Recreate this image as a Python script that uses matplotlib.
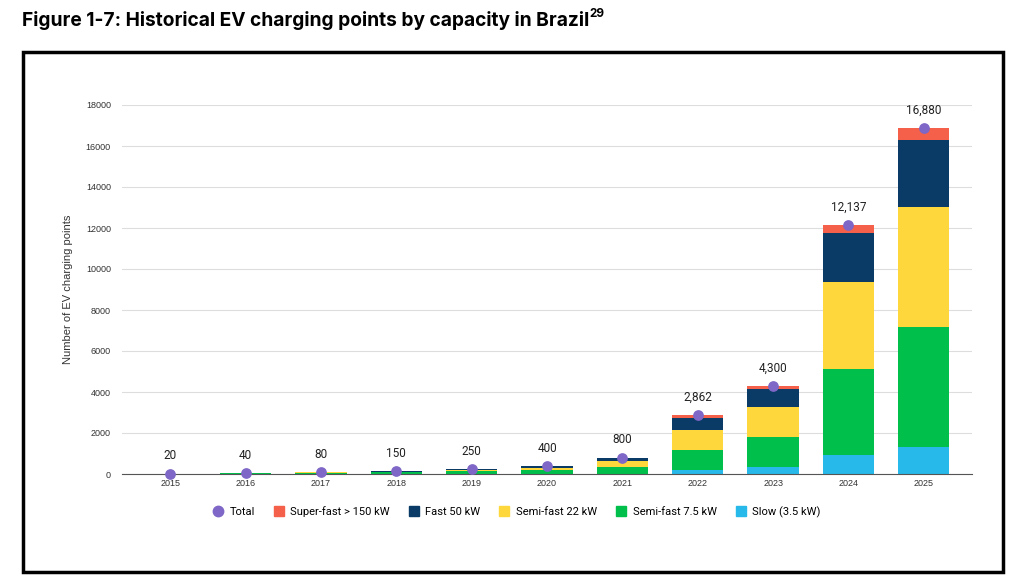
import matplotlib.pyplot as plt
from matplotlib.patches import Rectangle
from matplotlib.lines import Line2D
import numpy as np

# Data
years = ['2015', '2016', '2017', '2018', '2019', '2020', '2021', '2022', '2023', '2024', '2025']
slow = [20, 20, 10, 10, 5, 10, 20, 200, 340, 950, 1300]
semi_75 = [0, 20, 30, 80, 130, 200, 330, 970, 1460, 4170, 5870]
semi_22 = [0, 0, 40, 30, 70, 100, 260, 980, 1470, 4250, 5850]
fast_50 = [0, 0, 0, 30, 40, 80, 170, 580, 880, 2390, 3270]
super_fast = [0, 0, 0, 0, 5, 10, 20, 132, 150, 377, 590]
totals = [20, 40, 80, 150, 250, 400, 800, 2862, 4300, 12137, 16880]
total_labels = ['20', '40', '80', '150', '250', '400', '800', '2,862', '4,300', '12,137', '16,880']

series = [
    ('Slow (3.5 kW)', slow, '#27B9E9'),
    ('Semi-fast 7.5 kW', semi_75, '#00C04B'),
    ('Semi-fast 22 kW', semi_22, '#FDD73C'),
    ('Fast 50 kW', fast_50, '#0A3A66'),
    ('Super-fast > 150 kW', super_fast, '#F4604A'),
]
dot_color = '#7F67C7'

plt.rcParams['font.family'] = ['Roboto', 'DejaVu Sans']

fig = plt.figure(figsize=(10.24, 5.88), dpi=100)

# Title and outer frame
t = fig.text(22 / 1024, 1 - 20 / 588, 'Figure 1-7: Historical EV charging points by capacity in Brazil',
             fontsize=13.8, fontweight='bold', family='Inter', va='center', ha='left')
fig.canvas.draw()
bb = t.get_window_extent()
fig.text(bb.x1 / 1024, 1 - 14 / 588, '29', fontsize=8.5, fontweight='bold', family='Inter',
         va='center', ha='left')
fig.patches.append(Rectangle((23 / 1024, 1 - 572 / 588), (1003 - 23) / 1024, (572 - 52) / 588,
                             transform=fig.transFigure, fill=False, edgecolor='black', linewidth=2.5))

ax = fig.add_axes([122 / 1024, 1 - 474 / 588, (972 - 122) / 1024, (474 - 105) / 588])

x = np.arange(len(years))
bottom = np.zeros(len(years))
for name, vals, color in series:
    ax.bar(x, vals, width=0.68, bottom=bottom, color=color, zorder=2)
    bottom += np.array(vals)

ax.scatter(x, totals, s=45, color=dot_color, zorder=3, clip_on=False)
for xi, tot, lab in zip(x, totals, total_labels):
    ax.annotate(lab, (xi, tot), xytext=(0, 8), textcoords='offset points',
                ha='center', va='bottom', fontsize=8.5, color='#222222')

ax.set_xlim(-0.64, len(years) - 0.36)
ax.set_ylim(0, 18000)
ax.set_yticks(range(0, 18001, 2000))
ax.set_xticks(x)
ax.set_xticklabels(years)
ax.tick_params(axis='both', length=0, labelsize=6.5, colors='#333333')
ax.tick_params(axis='y', pad=8)
for lbl in ax.get_xticklabels() + ax.get_yticklabels():
    lbl.set_family('Liberation Sans')
ax.grid(axis='y', color='#DDDDDD', linewidth=0.8, zorder=0)
for s in ['top', 'right', 'left']:
    ax.spines[s].set_visible(False)
ax.spines['bottom'].set_color('#555555')
ax.set_ylabel('Number of EV charging points', fontsize=8, color='#333333', labelpad=9,
              family='Liberation Sans')

# Legend
handles = [Line2D([], [], marker='o', linestyle='', markersize=7.5, color=dot_color)]
labels = ['Total']
for name, vals, color in reversed(series):
    handles.append(Line2D([], [], marker='s', linestyle='', markersize=7, color=color))
    labels.append(name)
fig.legend(handles, labels, loc='center', bbox_to_anchor=(515 / 1024, 1 - 512 / 588), ncol=6,
           frameon=False, fontsize=8, handletextpad=0.3, columnspacing=1.4, handlelength=1.5)

fig.savefig('out.png', dpi=100, facecolor='white')
